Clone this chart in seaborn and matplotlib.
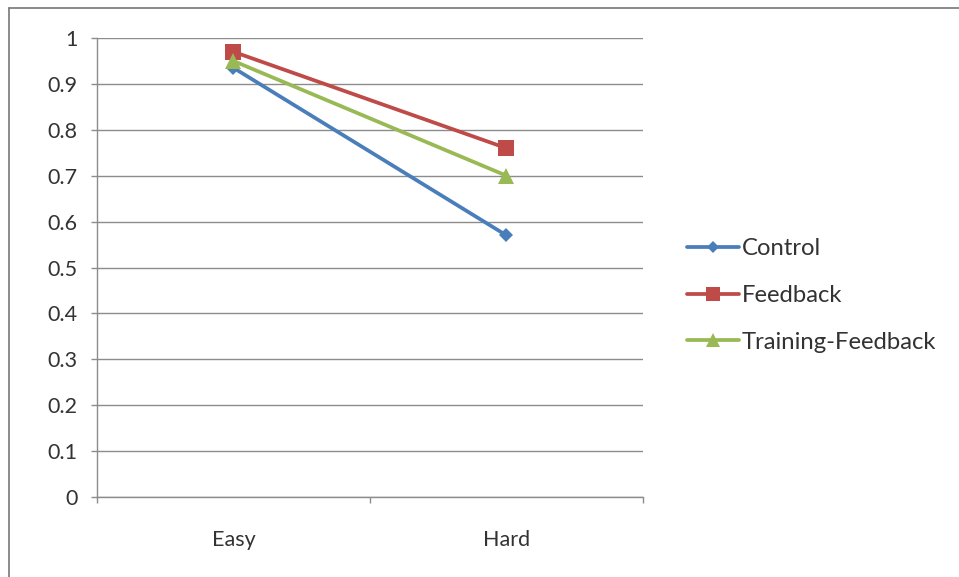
import numpy as np
import pandas as pd
import seaborn as sns
import matplotlib.pyplot as plt
from matplotlib.lines import Line2D

levels = ['Easy', 'Hard']
series = ['Control', 'Feedback', 'Training-Feedback']
control = [0.935, 0.57]
feedback = [0.97, 0.76]
training_feedback = [0.95, 0.70]

colors = {'Control': '#4A7EBB', 'Feedback': '#BE4B48', 'Training-Feedback': '#98B954'}
markers = {'Control': 'D', 'Feedback': 's', 'Training-Feedback': '^'}
msizes = {'Control': 7.5, 'Feedback': 12, 'Training-Feedback': 12}

sns.set_theme(style='white')
plt.rcParams['font.family'] = ['Lato', 'DejaVu Sans']

df = pd.DataFrame({
    'level': levels * 3,
    'x': [0, 1] * 3,
    'value': control + feedback + training_feedback,
    'series': [s for s in series for _ in levels],
})

fig = plt.figure(figsize=(9.59, 5.77), dpi=100)
ax = fig.add_axes([0.1011, 0.1386, 0.5694, 0.7955])

for name in series:
    sub = df[df['series'] == name]
    sns.lineplot(data=sub, x='x', y='value', ax=ax, color=colors[name],
                 marker=markers[name], markersize=msizes[name], markeredgewidth=0,
                 linewidth=2.7, label=name, legend=False)

ax.set_xlim(-0.5, 1.5)
ax.set_ylim(0, 1)
ax.set_yticks(np.arange(0, 1.01, 0.1))
ax.set_yticklabels(['0'] + [f'{v:.1f}' for v in np.arange(0.1, 0.95, 0.1)] + ['1'])
ax.set_xticks([0, 1])
ax.set_xticklabels(levels)
ax.set_xticks([-0.5, 0.5, 1.5], minor=True)
ax.set_xlabel('')
ax.set_ylabel('')

ax.yaxis.grid(True, color='#8c8c8c', linewidth=1.0)
ax.xaxis.grid(False)
for side in ['top', 'right']:
    ax.spines[side].set_visible(False)
for side in ['left', 'bottom']:
    ax.spines[side].set_color('#8c8c8c')
    ax.spines[side].set_linewidth(1.0)

ax.tick_params(axis='y', which='major', left=True, length=4, width=1, color='#8c8c8c',
               pad=10, labelsize=15.5, labelcolor='#333333')
ax.tick_params(axis='x', which='major', bottom=False, length=0, pad=24,
               labelsize=15.5, labelcolor='#333333')
ax.tick_params(axis='x', which='minor', bottom=True, length=4, width=1, color='#8c8c8c')

handles = [Line2D([0], [0], color=colors[s], marker=markers[s], markersize=msizes[s] * 0.85,
                  markeredgewidth=0, linewidth=2.7) for s in series]
fig.legend(handles, series, loc='center left', bbox_to_anchor=(0.706, 0.488),
           frameon=False, fontsize=17.2, handlelength=2.2, handletextpad=0.1,
           labelspacing=1.08, borderaxespad=0, labelcolor='#333333')

fig.add_artist(Line2D([0.0094, 0.0094], [0.0, 0.986], transform=fig.transFigure,
                      color='#777777', linewidth=1.2))
fig.add_artist(Line2D([0.0094, 1.0], [0.986, 0.986], transform=fig.transFigure,
                      color='#777777', linewidth=1.2))

fig.savefig('out.png', dpi=100)
